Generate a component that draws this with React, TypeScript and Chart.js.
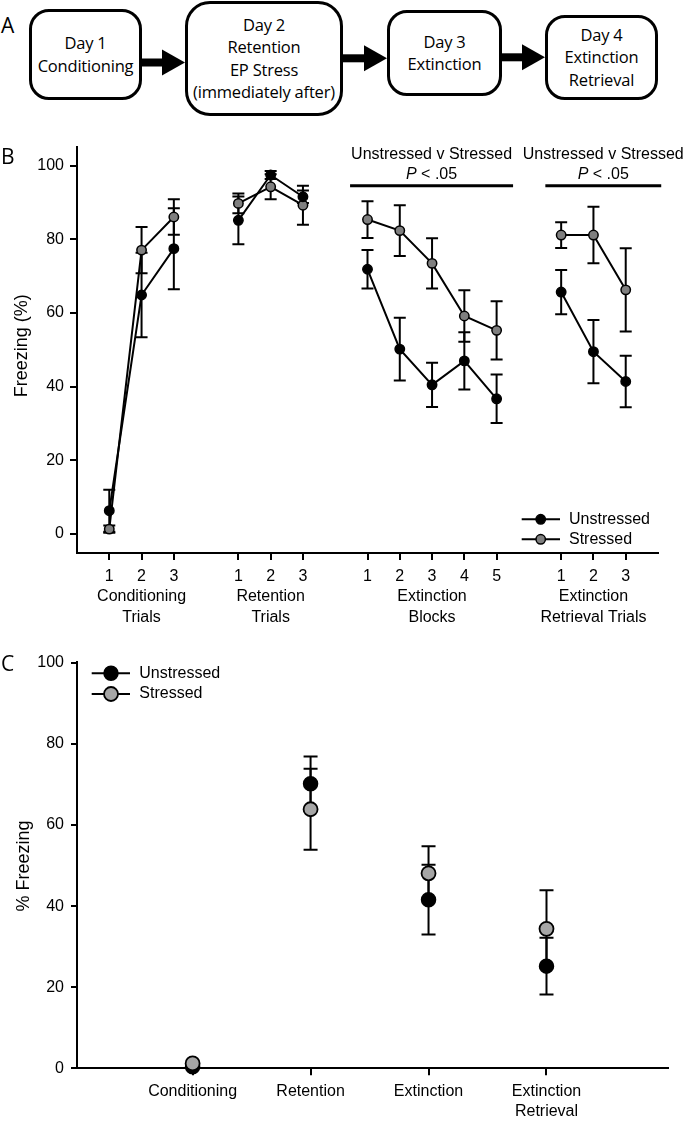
import React, { useEffect, useRef } from 'react';
import { Chart, registerables } from 'chart.js';

Chart.register(...registerables);

const SANS = '"Liberation Sans", Arial, Helvetica, sans-serif';
const HUMANIST = '"Open Sans", "Noto Sans", sans-serif';

// ---------------- Panel A : procedure ----------------
const dayBoxes: string[][] = [
  ['Day 1', 'Conditioning'],
  ['Day 2', 'Retention', 'EP Stress', '(immediately after)'],
  ['Day 3', 'Extinction'],
  ['Day 4', 'Extinction', 'Retrieval'],
];

// ---------------- Panel B : trial-by-trial freezing ----------------
const seriesNames = ['Unstressed', 'Stressed'];
const yTicksB = [0, 20, 40, 60, 80, 100];
const conditioningTrials = ['1', '2', '3'];
const retentionTrials = ['1', '2', '3'];
const extinctionBlocks = ['1', '2', '3', '4', '5'];
const retrievalTrials = ['1', '2', '3'];
const groupTitlesB: string[][] = [
  ['Conditioning', 'Trials'],
  ['Retention', 'Trials'],
  ['Extinction', 'Blocks'],
  ['Extinction', 'Retrieval Trials'],
];

const condUnstressed = [6.3, 64.9, 77.5];
const condUnstressedSem = [5.7, 11.5, 11.0];
const condStressed = [1.3, 77.1, 86.1];
const condStressedSem = [1.0, 6.3, 4.8];

const retUnstressed = [85.2, 97.5, 91.6];
const retUnstressedSem = [6.5, 1.1, 1.7];
const retStressed = [89.8, 94.3, 89.3];
const retStressedSem = [2.7, 3.4, 5.3];

const extUnstressed = [71.9, 50.2, 40.5, 47.0, 36.7];
const extUnstressedSem = [5.2, 8.5, 6.0, 7.8, 6.6];
const extStressed = [85.4, 82.4, 73.5, 59.2, 55.3];
const extStressedSem = [5.0, 6.9, 6.8, 7.0, 7.9];

const retrUnstressed = [65.7, 49.5, 41.4];
const retrUnstressedSem = [6.0, 8.6, 7.0];
const retrStressed = [81.2, 81.2, 66.3];
const retrStressedSem = [3.5, 7.7, 11.3];

const sigLabel = 'Unstressed v Stressed';
const sigP = 'P';
const sigRest = ' < .05';
const sigLevel = 94.6;
const sigSpans: number[][] = [
  [7.46, 12.51],
  [13.51, 17.1],
];

// ---------------- Panel C : phase means ----------------
const phasesC: string[][] = [['Conditioning'], ['Retention'], ['Extinction'], ['Extinction', 'Retrieval']];
const yTicksC = [0, 20, 40, 60, 80, 100];
const phaseUnstressed = [0.4, 70.2, 41.6, 25.2];
const phaseUnstressedSem = [0, 6.7, 8.6, 7.0];
const phaseStressed = [1.2, 63.9, 48.1, 34.4];
const phaseStressedSem = [0, 10.0, 6.7, 9.5];

// ---------------- build panel B series ----------------
const groupsB = [
  { ticks: conditioningTrials, u: condUnstressed, uSem: condUnstressedSem, s: condStressed, sSem: condStressedSem },
  { ticks: retentionTrials, u: retUnstressed, uSem: retUnstressedSem, s: retStressed, sSem: retStressedSem },
  { ticks: extinctionBlocks, u: extUnstressed, uSem: extUnstressedSem, s: extStressed, sSem: extStressedSem },
  { ticks: retrievalTrials, u: retrUnstressed, uSem: retrUnstressedSem, s: retrStressed, sSem: retrStressedSem },
];

type Pt = { x: number; y: number | null };
const tickSlotsB: number[] = [];
const tickLabelsB: (string | string[])[] = [];
const uDataB: Pt[] = [];
const uErrB: number[] = [];
const sDataB: Pt[] = [];
const sErrB: number[] = [];
{
  let slot = 0;
  groupsB.forEach((g, gi) => {
    if (gi > 0) {
      uDataB.push({ x: slot - 1, y: null });
      sDataB.push({ x: slot - 1, y: null });
      uErrB.push(0);
      sErrB.push(0);
    }
    g.ticks.forEach((t, i) => {
      const x = slot + i;
      tickSlotsB.push(x);
      tickLabelsB.push(i === Math.floor(g.ticks.length / 2) ? [t, ...groupTitlesB[gi]] : t);
      uDataB.push({ x, y: g.u[i] });
      uErrB.push(g.uSem[i]);
      sDataB.push({ x, y: g.s[i] });
      sErrB.push(g.sSem[i]);
    });
    slot += g.ticks.length + 1;
  });
}

// ---------------- plugins ----------------
const errorBarPlugin = {
  id: 'errorBars',
  beforeDatasetsDraw(chart: any) {
    const ctx = chart.ctx;
    const ys = chart.scales.y;
    chart.data.datasets.forEach((ds: any, di: number) => {
      const errs: number[] | undefined = ds.errors;
      if (!errs) return;
      const meta = chart.getDatasetMeta(di);
      const cap = ds.capHalf || 6;
      ctx.save();
      ctx.strokeStyle = '#000';
      ctx.lineWidth = 2;
      meta.data.forEach((pt: any, i: number) => {
        const raw = ds.data[i];
        if (raw.y == null || !errs[i] || !isFinite(pt.x)) return;
        const top = ys.getPixelForValue(raw.y + errs[i]);
        const bot = ys.getPixelForValue(raw.y - errs[i]);
        ctx.beginPath();
        ctx.moveTo(pt.x, top);
        ctx.lineTo(pt.x, bot);
        ctx.moveTo(pt.x - cap, top);
        ctx.lineTo(pt.x + cap, top);
        ctx.moveTo(pt.x - cap, bot);
        ctx.lineTo(pt.x + cap, bot);
        ctx.stroke();
      });
      ctx.restore();
    });
  },
};

function drawVerticalTitle(ctx: CanvasRenderingContext2D, text: string, x: number, y: number) {
  ctx.save();
  ctx.translate(x, y);
  ctx.rotate(-Math.PI / 2);
  ctx.font = `18px ${SANS}`;
  ctx.fillStyle = '#000';
  ctx.textAlign = 'center';
  ctx.textBaseline = 'middle';
  ctx.fillText(text, 0, 0);
  ctx.restore();
}

function drawLegend(chart: any, x0: number, x1: number, mx: number, tx: number, rows: number[]) {
  const ctx = chart.ctx;
  ctx.save();
  chart.data.datasets.forEach((ds: any, i: number) => {
    const y = rows[i];
    ctx.strokeStyle = '#000';
    ctx.lineWidth = 2;
    ctx.beginPath();
    ctx.moveTo(x0, y);
    ctx.lineTo(x1, y);
    ctx.stroke();
    ctx.beginPath();
    ctx.arc(mx, y, ds.pointRadius, 0, Math.PI * 2);
    ctx.fillStyle = ds.pointBackgroundColor;
    ctx.fill();
    ctx.lineWidth = ds.pointBorderWidth;
    ctx.strokeStyle = '#000';
    ctx.stroke();
    ctx.fillStyle = '#000';
    ctx.font = `16px ${SANS}`;
    ctx.textAlign = 'left';
    ctx.textBaseline = 'middle';
    ctx.fillText(ds.label, tx, y);
  });
  ctx.restore();
}

const decorPluginB = {
  id: 'decorB',
  afterDraw(chart: any) {
    const ctx = chart.ctx;
    const xs = chart.scales.x;
    const ys = chart.scales.y;
    const area = chart.chartArea;
    drawVerticalTitle(ctx, 'Freezing (%)', 22.5, (area.top + area.bottom) / 2 - 4);
    drawLegend(chart, 521.7, 560, 540.7, 569, [379.3, 399.3]);
    ctx.save();
    const yBar = ys.getPixelForValue(sigLevel);
    sigSpans.forEach(([a, b]) => {
      const xa = xs.getPixelForValue(a);
      const xb = xs.getPixelForValue(b);
      const cx = (xa + xb) / 2;
      ctx.strokeStyle = '#000';
      ctx.lineWidth = 3;
      ctx.beginPath();
      ctx.moveTo(xa, yBar);
      ctx.lineTo(xb, yBar);
      ctx.stroke();
      ctx.fillStyle = '#000';
      ctx.textBaseline = 'middle';
      ctx.textAlign = 'center';
      ctx.font = `16px ${SANS}`;
      ctx.fillText(sigLabel, cx, yBar - 30.7);
      ctx.textAlign = 'left';
      ctx.font = `italic 16px ${SANS}`;
      const wp = ctx.measureText(sigP).width;
      ctx.font = `16px ${SANS}`;
      const wr = ctx.measureText(sigRest).width;
      const start = cx - (wp + wr) / 2;
      ctx.font = `italic 16px ${SANS}`;
      ctx.fillText(sigP, start, yBar - 10.7);
      ctx.font = `16px ${SANS}`;
      ctx.fillText(sigRest, start + wp, yBar - 10.7);
    });
    ctx.restore();
  },
};

const decorPluginC = {
  id: 'decorC',
  afterDraw(chart: any) {
    const ctx = chart.ctx;
    drawVerticalTitle(ctx, '% Freezing', 24, 226);
    drawLegend(chart, 91.7, 130, 111, 139.3, [33.3, 54]);
  },
};

const tickFont = { family: SANS, size: 16, lineHeight: 1.28 };

function PanelB() {
  const ref = useRef<HTMLCanvasElement>(null);
  useEffect(() => {
    const chart = new Chart(ref.current!, {
      type: 'scatter',
      data: {
        datasets: [
          {
            label: seriesNames[0],
            data: uDataB as any,
            errors: uErrB,
            capHalf: 6,
            showLine: true,
            spanGaps: false,
            borderColor: '#000',
            borderWidth: 2,
            pointRadius: 4.7,
            pointBackgroundColor: '#000',
            pointBorderColor: '#000',
            pointBorderWidth: 1.5,
            clip: false,
          } as any,
          {
            label: seriesNames[1],
            data: sDataB as any,
            errors: sErrB,
            capHalf: 6,
            showLine: true,
            spanGaps: false,
            borderColor: '#000',
            borderWidth: 2,
            pointRadius: 4.7,
            pointBackgroundColor: '#7f7f7f',
            pointBorderColor: '#000',
            pointBorderWidth: 1.5,
            clip: false,
          } as any,
        ],
      },
      options: {
        responsive: false,
        animation: false,
        devicePixelRatio: 1,
        events: [],
        layout: { padding: { left: 0, top: 6.7, right: 27, bottom: 0 }, autoPadding: false } as any,
        plugins: { legend: { display: false }, tooltip: { enabled: false } },
        scales: {
          x: {
            type: 'linear',
            min: -1,
            max: 17,
            border: { display: true, color: '#000', width: 2 },
            grid: { drawOnChartArea: false, drawTicks: true, tickLength: 7, color: '#000', lineWidth: 2 },
            ticks: {
              autoSkip: false,
              maxRotation: 0,
              minRotation: 0,
              padding: 6,
              color: '#000',
              font: tickFont,
              callback: (_v: any, i: number) => tickLabelsB[i],
            },
            afterBuildTicks: (s: any) => {
              s.ticks = tickSlotsB.map((v) => ({ value: v }));
            },
            afterFit: (s: any) => {
              s.height = 77;
              s.paddingLeft = 0;
              s.paddingRight = 0;
            },
          },
          y: {
            type: 'linear',
            min: -5.2,
            max: 105.2,
            border: { display: true, color: '#000', width: 2 },
            grid: { drawOnChartArea: false, drawTicks: true, tickLength: 7, color: '#000', lineWidth: 2 },
            ticks: { padding: 6, color: '#000', font: tickFont },
            afterBuildTicks: (s: any) => {
              s.ticks = yTicksB.map((v) => ({ value: v }));
            },
            afterFit: (s: any) => {
              s.width = 77;
              s.paddingTop = 0;
              s.paddingBottom = 0;
            },
          },
        },
      } as any,
      plugins: [errorBarPlugin, decorPluginB],
    });
    return () => chart.destroy();
  }, []);
  return (
    <canvas
      ref={ref}
      width={685}
      height={490}
      style={{ position: 'absolute', left: 0, top: 140, width: 685, height: 490, display: 'block' }}
    />
  );
}

function PanelC() {
  const ref = useRef<HTMLCanvasElement>(null);
  useEffect(() => {
    const uData = phaseUnstressed.map((y, i) => ({ x: i, y }));
    const sData = phaseStressed.map((y, i) => ({ x: i, y }));
    const chart = new Chart(ref.current!, {
      type: 'scatter',
      data: {
        datasets: [
          {
            label: seriesNames[0],
            data: uData,
            errors: phaseUnstressedSem,
            capHalf: 7,
            showLine: false,
            pointRadius: 7,
            pointBackgroundColor: '#000',
            pointBorderColor: '#000',
            pointBorderWidth: 1.5,
            order: 1,
            clip: false,
          } as any,
          {
            label: seriesNames[1],
            data: sData,
            errors: phaseStressedSem,
            capHalf: 7,
            showLine: false,
            pointRadius: 7,
            pointBackgroundColor: '#a6a6a6',
            pointBorderColor: '#000',
            pointBorderWidth: 1.8,
            order: 0,
            clip: false,
          } as any,
        ],
      },
      options: {
        responsive: false,
        animation: false,
        devicePixelRatio: 1,
        events: [],
        layout: { padding: { left: 0, top: 21.7, right: 17, bottom: 0 }, autoPadding: false } as any,
        plugins: { legend: { display: false }, tooltip: { enabled: false } },
        scales: {
          x: {
            type: 'linear',
            min: -0.98,
            max: 4.03,
            border: { display: true, color: '#000', width: 2 },
            grid: { drawOnChartArea: false, drawTicks: true, tickLength: 7, color: '#000', lineWidth: 2 },
            ticks: {
              autoSkip: false,
              maxRotation: 0,
              minRotation: 0,
              padding: 6,
              color: '#000',
              font: { family: SANS, size: 16, lineHeight: 1.25 },
              callback: (_v: any, i: number) => phasesC[i],
            },
            afterBuildTicks: (s: any) => {
              s.ticks = phasesC.map((_p, i) => ({ value: i }));
            },
            afterFit: (s: any) => {
              s.height = 53.7;
              s.paddingLeft = 0;
              s.paddingRight = 0;
            },
          },
          y: {
            type: 'linear',
            min: 0,
            max: 100.3,
            border: { display: true, color: '#000', width: 2 },
            grid: { drawOnChartArea: false, drawTicks: true, tickLength: 6, color: '#000', lineWidth: 2 },
            ticks: { padding: 7, color: '#000', font: { family: SANS, size: 16 } },
            afterBuildTicks: (s: any) => {
              s.ticks = yTicksC.map((v) => ({ value: v }));
            },
            afterFit: (s: any) => {
              s.width = 77;
              s.paddingTop = 0;
              s.paddingBottom = 0;
            },
          },
        },
      } as any,
      plugins: [errorBarPlugin, decorPluginC],
    });
    return () => chart.destroy();
  }, []);
  return (
    <canvas
      ref={ref}
      width={685}
      height={482}
      style={{ position: 'absolute', left: 0, top: 640, width: 685, height: 482, display: 'block' }}
    />
  );
}

const boxGeom = [
  { left: 29, top: 9, width: 113, height: 91, radius: 20 },
  { left: 185, top: 1, width: 158, height: 115, radius: 25 },
  { left: 387, top: 10, width: 115, height: 86, radius: 20 },
  { left: 545, top: 15, width: 113, height: 85, radius: 20 },
];

const arrowGeom = [
  { x1: 141, x2: 185, y: 62.5 },
  { x1: 342, x2: 387, y: 58.3 },
  { x1: 501, x2: 545, y: 57.3 },
];

function PanelA() {
  return (
    <>
      {dayBoxes.map((lines, i) => {
        const g = boxGeom[i];
        return (
          <div
            key={i}
            style={{
              position: 'absolute',
              left: g.left,
              top: g.top,
              width: g.width,
              height: g.height,
              border: '3px solid #000',
              borderRadius: g.radius,
              boxSizing: 'border-box',
              display: 'flex',
              flexDirection: 'column',
              justifyContent: 'center',
              alignItems: 'center',
              fontFamily: HUMANIST,
              fontSize: 16.5,
              lineHeight: '22.3px',
              letterSpacing: '-0.2px',
              color: '#000',
              background: '#fff',
              whiteSpace: 'nowrap',
            }}
          >
            {lines.map((l, j) => (
              <div key={j}>{l}</div>
            ))}
          </div>
        );
      })}
      <svg width={685} height={120} style={{ position: 'absolute', left: 0, top: 0 }}>
        {arrowGeom.map((a, i) => (
          <g key={i}>
            <rect x={a.x1} y={a.y - 4} width={a.x2 - a.x1 - 20} height={8} fill="#000" />
            <polygon points={`${a.x2 - 23},${a.y - 13} ${a.x2},${a.y} ${a.x2 - 23},${a.y + 13}`} fill="#000" />
          </g>
        ))}
      </svg>
    </>
  );
}

const panelLabelStyle = (top: number): React.CSSProperties => ({
  position: 'absolute',
  left: 1,
  top,
  fontFamily: HUMANIST,
  fontSize: 21,
  lineHeight: '21px',
  color: '#000',
});

export default function App() {
  return (
    <div
      style={{
        position: 'absolute',
        left: 0,
        top: 0,
        width: 685,
        height: 1122,
        background: '#fff',
        overflow: 'hidden',
      }}
    >
      <PanelA />
      <PanelB />
      <PanelC />
      <div style={panelLabelStyle(14.6)}>A</div>
      <div style={panelLabelStyle(146.3)}>B</div>
      <div style={panelLabelStyle(652.5)}>C</div>
    </div>
  );
}
